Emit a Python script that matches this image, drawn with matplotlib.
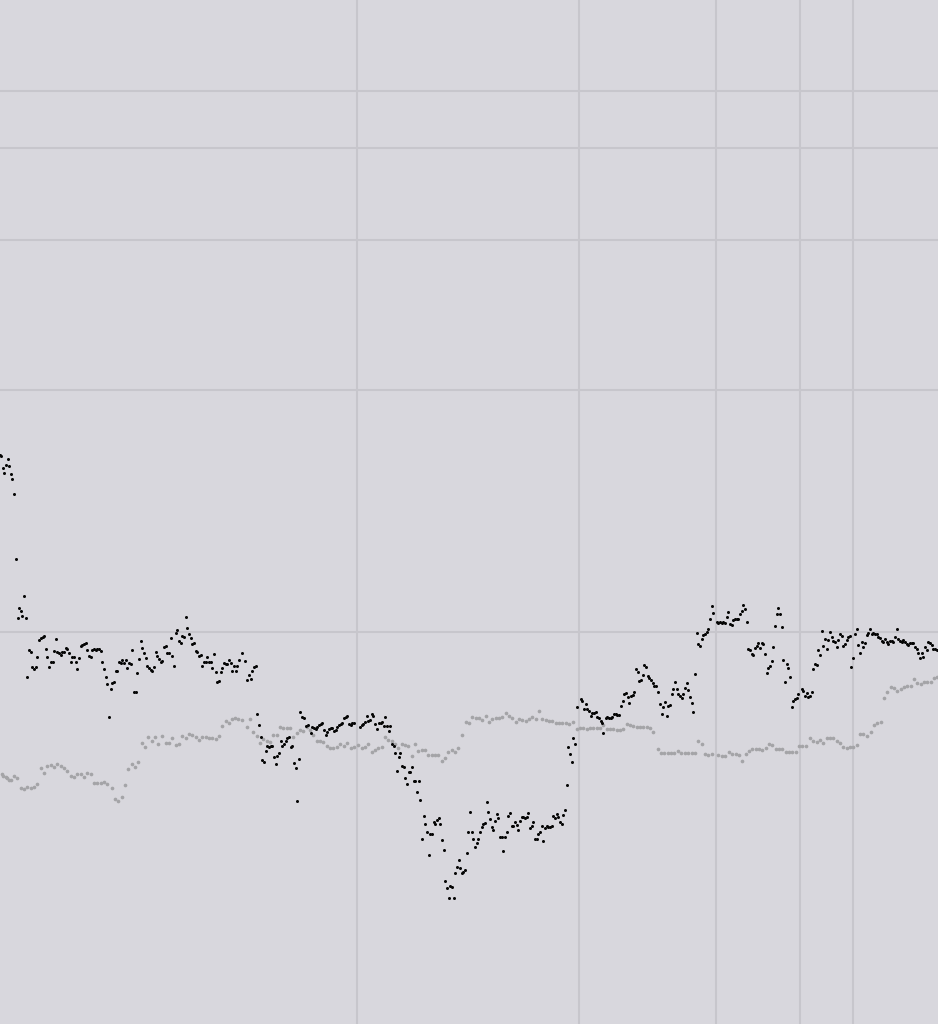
import numpy as np
import matplotlib
matplotlib.use("Agg")
import matplotlib.pyplot as plt

black_points = [
(0,455),(1,456),(3,468),(4,473),(6,465),(8,459),(9,466),(11,474),(12,479),(14,494),(16,559),(18,618),(19,608),(21,611),(22,616),(24,596),(26,618),
(27,677),(29,650),(31,652),(32,667),(34,669),(36,667),(37,657),(39,640),(41,638),(43,637),(44,636),(46,649),(47,657),(49,667),(51,662),(53,662),(54,651),(56,639),(57,652),(59,653),(61,655),(62,652),(64,652),(66,648),(67,649),(69,653),(71,662),(72,657),(74,657),(76,662),(77,669),(79,658),(81,646),(82,645),(84,644),(86,643),(87,650),(89,656),(91,657),(92,650),(94,649),(96,650),(97,649),(99,649),(101,651),(102,662),(104,669),(106,677),(107,684),(109,717),(111,689),(112,683),(114,682),(116,671),(117,671),(119,662),(121,663),(122,660),(124,663),(126,660),(127,668),(129,663),(131,664),(132,650),(134,692),(136,692),(137,673),(139,659),(141,641),(142,648),(144,653),(146,658),(147,666),(149,668),(151,670),(152,671),(154,667),(156,652),(157,656),(159,659),(161,662),(162,661),(164,647),(166,646),(167,653),(169,653),(171,638),(172,656),(174,666),(176,633),(177,630),(179,641),(181,643),(182,636),(184,637),(186,617),(187,628),(189,634),(191,638),(192,644),(194,643),(196,651),(197,652),(199,656),(201,655),(202,666),(204,662),(206,662),(207,657),(209,662),(211,662),(212,668),(214,654),(216,672),(217,682),(219,681),(221,672),(222,668),(224,663),(226,664),(227,664),(229,660),(231,663),(232,671),(234,666),(236,671),(237,666),(239,660),(242,653),(245,661),(247,680),(249,675),(251,679),(252,671),(254,667),(256,666),
(257,714),(259,725),(261,737),(262,760),(264,762),(266,751),(267,746),(269,747),(271,746),(272,746),(274,757),(276,764),(277,756),(279,753),(281,741),(282,746),(284,744),(286,741),(287,738),(289,737),(291,747),(292,746),(294,763),(296,768),(297,801),(299,759),(300,712),(302,717),(304,718),(306,726),(308,725),(311,733),(312,727),(314,728),(316,729),(317,727),(319,725),(321,724),(322,723),(324,730),(326,735),(327,732),(329,729),(331,728),(332,728),(334,731),(336,730),(337,727),(339,725),(341,724),(342,723),(344,718),(346,717),(347,716),(349,724),(351,725),(352,723),(354,723),(360,727),(362,725),(363,724),(365,722),(367,716),(368,721),(370,720),(372,714),(373,716),(375,724),(377,729),(379,723),(381,723),(382,722),(384,726),(385,717),(387,726),(389,731),(390,726),(392,744),(394,746),(395,753),(397,771),(399,757),(400,753),(402,766),(404,767),(405,778),(407,784),(409,772),(410,772),(412,767),(414,781),(415,781),(417,792),(419,781),(420,800),(422,839),(424,816),(425,824),(427,832),(429,855),(430,834),(432,834),(434,822),(435,824),(437,820),(439,818),(440,824),(442,840),(444,850),(445,881),(447,888),(449,898),(450,886),(452,887),(454,898),(455,873),(457,867),(459,860),(460,868),(462,873),(463,872),(465,870),(467,853),(468,832),(470,812),(472,832),(473,839),(475,847),(477,843),(478,839),(480,832),(482,827),(483,824),(485,823),(487,802),(488,812),(490,819),(492,827),(493,830),(495,821),(497,814),(498,818),(500,837),(502,837),(503,851),(505,837),(507,832),(508,816),(510,813),(512,826),(513,826),(515,822),(517,825),(518,830),(520,821),(522,817),(523,817),(525,818),(527,817),(528,813),(530,828),(532,826),(533,822),(535,839),(537,839),(538,834),(540,832),(542,826),(543,841),(545,828),(547,826),(548,827),(550,827),(552,826),(553,816),(555,818),(557,814),(558,817),(560,822),(562,824),(563,815),(565,810),(567,785),(568,747),(570,754),(572,762),(573,738),(575,744),(577,707),(581,699),(582,701),(584,709),(586,704),(587,709),(589,711),(591,716),(592,713),(594,713),(596,712),(597,717),(599,718),(601,721),(602,723),(603,733),(606,718),(607,717),(609,718),(611,718),(612,717),(614,714),(616,714),(617,715),(619,715),(621,706),(623,701),(624,694),(626,693),(628,697),(629,703),(631,696),(633,695),(634,692),(636,669),(638,672),(639,681),(641,680),(643,675),(644,665),(646,667),(648,676),(649,678),(651,680),(653,683),(654,686),(656,686),(658,692),(660,704),(662,714),(663,707),(665,702),(667,716),(668,706),(670,705),(672,694),(673,689),(675,682),(677,689),(678,694),(680,696),(682,698),(683,694),(685,688),(687,683),(688,690),(690,697),(692,703),(693,712),(695,674),(697,633),(698,644),(700,646),(702,639),(703,635),(705,634),(707,632),(708,629),(710,619),(712,606),(713,613),(717,622),(718,623),(720,622),(722,623),(723,622),(725,623),(727,617),(728,612),(730,624),(732,625),(733,620),(735,619),(737,619),(738,619),(740,614),(742,611),(743,605),(745,609),(747,622),(748,649),(750,650),(752,654),(753,655),(755,648),(757,646),(758,643),(760,648),(762,643),(763,644),(765,654),(767,673),(768,668),(770,666),(772,661),(773,647),(775,626),(777,614),(778,608),(780,614),(782,627),(783,660),(785,682),(787,664),(788,668),(790,677),(792,707),(793,701),(795,699),(797,698),(798,694),(802,689),(803,691),(805,696),(807,693),(808,697),(810,696),(812,692),(813,669),(815,664),(817,665),(818,650),(820,655),(822,631),(823,646),(825,639),(827,649),(828,640),(830,632),(832,637),(833,641),(835,642),(837,647),(838,640),(840,634),(842,636),(843,646),(845,644),(847,640),(848,637),(850,636),(851,667),(853,658),(855,634),(857,629),(858,645),(860,653),(862,642),(863,647),(865,643),(867,635),(868,633),(870,629),(872,634),(873,633),(875,634),(877,634),(878,637),(880,638),(882,641),(883,642),(885,639),(887,642),(888,644),(890,641),(892,641),(893,642),(895,637),(897,629),(898,639),(900,641),(902,642),(903,640),(905,642),(907,644),(908,645),(910,643),(912,643),(913,643),(915,647),(917,649),(918,653),(920,658),(922,653),(923,657),(925,647),(927,650),(928,642),(930,643),(932,645),(933,649),(935,649),(937,650),
]

gray_points = [
(2,774),(3,776),(6,777),(7,778),(9,780),(11,780),(14,776),(17,778),(21,788),(24,789),(27,787),(31,788),(34,787),(37,784),(41,768),(44,773),(47,766),(51,765),(54,767),(57,764),(61,766),(64,768),(67,771),(71,776),(74,777),(77,774),(81,774),(84,777),(87,773),(91,774),(94,783),(97,783),(101,783),(104,782),(107,784),(112,788),(115,799),(118,801),(122,797),(125,785),(128,769),(132,764),(135,767),(138,762),(142,743),(145,747),(148,737),(152,741),(155,737),(158,744),(162,736),(166,743),(169,743),(172,738),(176,745),(179,744),(182,736),(186,738),(189,734),(192,735),(196,737),(199,740),(202,737),(206,737),(209,738),(212,738),(216,739),(219,736),(222,726),(226,721),(229,723),(232,719),(235,718),(238,719),(242,720),(247,727),(250,719),(253,732),(257,736),(260,743),(263,739),(267,741),(270,742),(273,735),(277,735),(280,727),(283,728),(287,728),(290,728),(293,737),(297,733),(300,730),(303,731),(307,727),(310,730),(313,735),(317,741),(320,741),(323,742),(327,746),(330,748),(333,748),(337,747),(340,744),(344,746),(347,743),(351,748),(354,747),(358,745),(362,748),(365,747),(368,744),(372,752),(375,750),(378,748),(382,747),(385,737),(388,740),(392,741),(395,744),(398,748),(402,744),(405,745),(408,746),(412,756),(415,744),(418,751),(422,750),(425,750),(428,755),(432,755),(435,755),(438,755),(442,761),(445,758),(448,752),(452,750),(455,752),(458,748),(462,735),(466,722),(469,723),(472,717),(476,718),(479,718),(482,720),(486,716),(489,722),(492,719),(496,718),(499,718),(502,717),(506,713),(509,716),(512,718),(516,722),(519,719),(522,720),(526,721),(529,719),(532,717),(536,719),(539,711),(542,719),(546,720),(549,721),(552,721),(556,723),(559,723),(562,723),(566,723),(569,724),(573,722),(577,729),(580,728),(583,728),(587,729),(590,728),(593,728),(597,728),(600,728),(603,725),(607,729),(610,729),(613,729),(617,730),(620,730),(623,729),(627,724),(630,725),(633,726),(637,727),(640,727),(643,727),(647,727),(650,728),(653,732),(658,749),(661,753),(664,753),(668,753),(671,753),(674,753),(678,751),(681,753),(685,753),(688,753),(692,753),(695,753),(698,741),(702,744),(705,754),(708,755),(712,754),(718,755),(722,756),(725,756),(729,752),(732,754),(736,754),(739,755),(742,761),(746,754),(749,751),(752,749),(756,749),(759,749),(762,750),(766,748),(769,744),(772,745),(776,749),(779,749),(782,749),(786,752),(789,752),(792,752),(796,752),(799,746),(802,746),(806,746),(810,738),(813,741),(817,742),(820,740),(823,743),(827,738),(830,738),(833,738),(837,741),(840,743),(843,747),(847,748),(850,747),(853,747),(857,745),(860,734),(863,734),(867,736),(871,732),(874,725),(877,723),(881,722),(884,698),(887,692),(891,687),(894,688),(897,691),(901,689),(904,687),(907,686),(911,686),(914,679),(917,683),(921,684),(924,682),(927,682),(931,682),(934,678),(937,677),
]

x_gridlines = [357, 578.5, 715.5, 799.5, 852.5]
y_gridlines = [91, 148, 240, 390, 631.5]

black = np.array(black_points, dtype=float)
gray = np.array(gray_points, dtype=float)

fig = plt.figure(figsize=(9.38, 10.24), dpi=100)
fig.patch.set_facecolor('#d8d7dd')
ax = fig.add_axes([0, 0, 1, 1])
ax.set_facecolor('#d8d7dd')
ax.set_xlim(0, 938)
ax.set_ylim(1024, 0)

ax.set_xticks(x_gridlines)
ax.set_yticks(y_gridlines)
ax.grid(True, color='#c7c6cc', linewidth=1.5)
ax.set_axisbelow(True)
ax.tick_params(left=False, bottom=False, labelleft=False, labelbottom=False)
for s in ax.spines.values():
    s.set_visible(False)

ax.scatter(gray[:, 0], gray[:, 1], s=7, color='#a4a4a7', linewidths=0, zorder=2)
ax.scatter(black[:, 0], black[:, 1], s=4.8, color='#050505', linewidths=0, zorder=3)

fig.savefig('out.png', dpi=100, facecolor=fig.get_facecolor())
